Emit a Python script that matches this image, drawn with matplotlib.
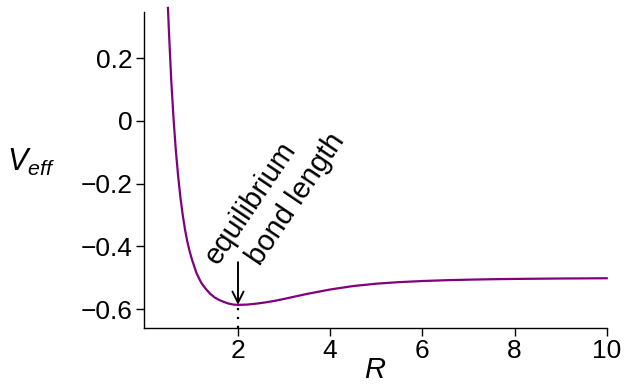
import matplotlib
matplotlib.use("Agg")
import matplotlib.pyplot as plt

plt.rcParams['font.family'] = ['Liberation Sans', 'DejaVu Sans']
plt.rcParams['mathtext.fontset'] = 'custom'
plt.rcParams['mathtext.rm'] = 'Liberation Sans'
plt.rcParams['mathtext.it'] = 'Liberation Sans:italic'

# effective potential
R = [0.48, 0.50, 0.55, 0.60, 0.65, 0.70, 0.75, 0.80, 0.85, 0.90, 0.95,
     1.00, 1.10, 1.20, 1.30, 1.40, 1.50, 1.60, 1.70, 1.80, 1.90, 2.00,
     2.20, 2.40, 2.60, 2.80, 3.00, 3.25, 3.50, 3.75, 4.00, 4.50, 5.00,
     5.50, 6.00, 6.50, 7.00, 7.50, 8.00, 9.00, 10.0]
V = [0.36, 0.29, 0.133, 0.010, -0.092, -0.174, -0.243, -0.299, -0.346, -0.384, -0.415,
     -0.441, -0.485, -0.515, -0.535, -0.551, -0.563, -0.571, -0.577, -0.582, -0.585, -0.586,
     -0.585, -0.582, -0.578, -0.573, -0.567, -0.559, -0.551, -0.544, -0.537, -0.526, -0.5185,
     -0.5135, -0.510, -0.5075, -0.5057, -0.5043, -0.5033, -0.502, -0.5012]

R_eq = 2.0
V_eq = -0.586
arrow_top = -0.45

xticks = [2, 4, 6, 8, 10]
yticks = [-0.6, -0.4, -0.2, 0, 0.2]
ylabels = ['\u22120.6', '\u22120.4', '\u22120.2', '0', '0.2']

fig = plt.figure(figsize=(6.24, 3.84), dpi=100)
ax = fig.add_axes([0.230, 0.1466, 0.7423, 0.8214])

ax.plot(R, V, color='#800080', lw=1.6, clip_on=False, zorder=3)

# dotted marker down to the axis
ax.plot([R_eq, R_eq], [-0.66, V_eq], color='black', lw=1.6, ls=(0, (1, 3)), clip_on=False)
ax.annotate('', xy=(R_eq, V_eq), xytext=(R_eq, arrow_top),
            arrowprops=dict(arrowstyle='->', color='black', lw=1.4,
                            mutation_scale=20, shrinkA=0, shrinkB=0))
# the two label lines are staggered in the original, so place them separately
for txt, rx, vy in [('equilibrium', 2.28, -0.262), ('bond length', 3.26, -0.249)]:
    ax.text(rx, vy, txt, rotation=56, fontsize=21, ha='center', va='center',
            rotation_mode='anchor')

ax.set_xlim(-0.05, 10)
ax.set_ylim(-0.6587, 0.346)
ax.set_xticks(xticks)
ax.set_xticklabels([str(t) for t in xticks])
ax.set_yticks(yticks)
ax.set_yticklabels(ylabels)
ax.tick_params(labelsize=19, length=6, width=1, direction='out', pad=2)

for s in ['top', 'right']:
    ax.spines[s].set_visible(False)
for s in ['left', 'bottom']:
    ax.spines[s].set_linewidth(1)

fig.text(0.601, 0.036, '$R$', fontsize=21, ha='center', va='center')
fig.text(0.050, 0.578, '$V_{eff}$', fontsize=22, ha='center', va='center')

fig.savefig('out.png', dpi=100)
